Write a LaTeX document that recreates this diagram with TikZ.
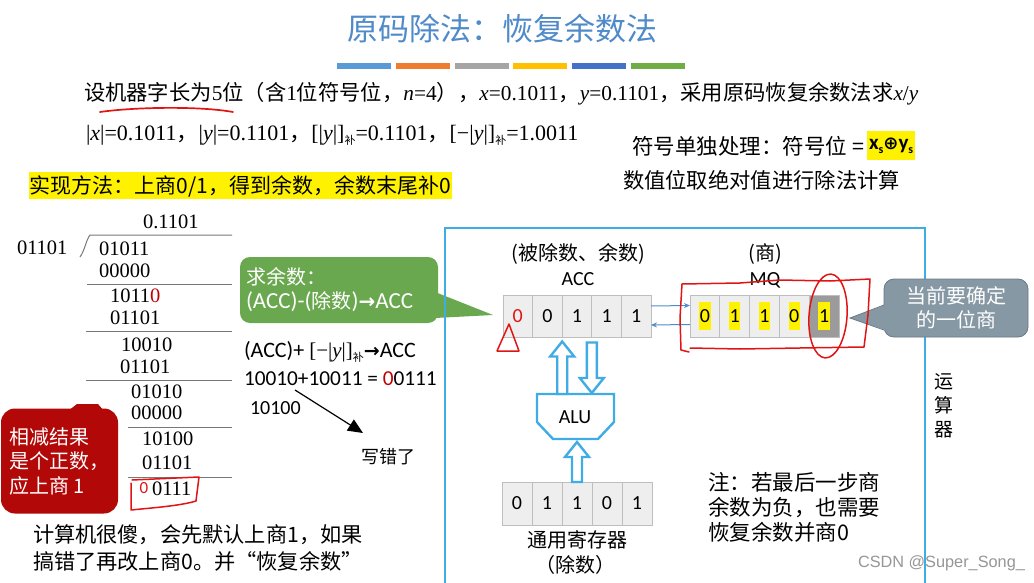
\documentclass[tikz,border=0pt]{standalone}
\usepackage{fontspec}
\setmainfont{Noto Sans CJK SC}
\newfontfamily\tms{Liberation Serif}
\newfontfamily\calb{Carlito}
\newfontfamily\dvs{DejaVu Sans}
\newfontfamily\lsans{Liberation Sans}
\usetikzlibrary{arrows.meta,calc}
\definecolor{ttl}{RGB}{79,138,201}
\definecolor{bA}{RGB}{91,155,213}
\definecolor{bB}{RGB}{237,125,49}
\definecolor{bC}{RGB}{165,165,165}
\definecolor{bD}{RGB}{255,192,0}
\definecolor{bE}{RGB}{68,114,196}
\definecolor{bF}{RGB}{112,173,71}
\definecolor{hred}{RGB}{225,20,20}
\definecolor{dred}{RGB}{178,8,8}
\definecolor{numred}{RGB}{192,0,0}
\definecolor{gcol}{RGB}{106,168,79}
\definecolor{gycol}{RGB}{135,152,165}
\definecolor{gybd}{RGB}{105,120,132}
\definecolor{frame}{RGB}{64,172,228}
\definecolor{cellf}{RGB}{238,238,238}
\definecolor{cellb}{RGB}{190,190,190}
\definecolor{celld}{RGB}{155,155,155}
\definecolor{sarrc}{RGB}{80,140,200}
\definecolor{dline}{RGB}{120,120,120}
\definecolor{wm}{RGB}{150,150,150}
\newcommand\fsz[1]{\fontsize{#1}{#1}\selectfont}
\newcommand\ylw[1]{{\setlength\fboxsep{0.6pt}\colorbox{yellow}{\rule[-7pt]{0pt}{26pt}#1}}}
\newcommand\bu{\raisebox{-4pt}{\fsz{11}补}}
\newcommand\uparr[2]{\draw[hol] let \p1=(#1), \p2=(#2) in (\x1-5pt,\y1) -- (\x1-5pt,\y2-15pt) -- (\x1-12pt,\y2-15pt) -- (\x1,\y2) -- (\x1+12pt,\y2-15pt) -- (\x1+5pt,\y2-15pt) -- (\x1+5pt,\y1) -- cycle;}
\newcommand\downarr[2]{\draw[hol] let \p1=(#1), \p2=(#2) in (\x1-5pt,\y1) -- (\x1-5pt,\y2+15pt) -- (\x1-12pt,\y2+15pt) -- (\x1,\y2) -- (\x1+12pt,\y2+15pt) -- (\x1+5pt,\y2+15pt) -- (\x1+5pt,\y1) -- cycle;}
\begin{document}
\begin{tikzpicture}[x=1pt,y=-1pt,
  every node/.style={inner sep=0pt,outer sep=0pt},
  dv/.style={anchor=west,font=\tms\fsz{20.5}},
  dvline/.style={draw=dline,line width=1pt},
  cell/.style={draw=cellb,fill=cellf,line width=0.8pt,minimum height=42pt,font=\calb\fsz{20}},
  hol/.style={draw=frame,line width=2.4pt,fill=white,line join=miter},
  hand/.style={draw=hred,line width=1.5pt,line cap=round,line join=round},
  sarr/.style={draw=sarrc,line width=1pt,-{Stealth[length=6pt,width=5pt]}},
  lbl/.style={font=\fsz{20}},
  cbl/.style={font=\calb\fsz{20}}]
\useasboundingbox (0,0) rectangle (1034,583);
\fill[white] (0,0) rectangle (1034,583);
% title and bars
\node[font=\fsz{31},text=ttl] (title) at (502,29) {原码除法：恢复余数法};
\foreach \c [count=\i] in {bA,bB,bC,bD,bE,bF}
  \fill[\c] ({337+(\i-1)*58.8},63) rectangle ++(54,6);
% statement lines
\node[anchor=west,font=\fsz{21.3}] (l1) at (84,94) {设机器字长为{\tms 5}位（含{\tms 1}位符号位，{\tms\textit{n}=4}），{\tms\textit{x}=0.1011}，{\tms\textit{y}=0.1101}，采用原码恢复余数法求{\tms\textit{x}/\textit{y}}};
\draw[hand,line width=1.7pt] (100,112) .. controls (135,107) and (200,106) .. (233,112);
\node[anchor=west,font=\fsz{22}] (l2) at (86,135) {{\tms |\textit{x}|=0.1011}，{\tms |\textit{y}|=0.1101}，{\tms [|\textit{y}|]}\bu{\tms =0.1101}，{\tms [−|\textit{y}|]}\bu{\tms =1.0011}};
\node[anchor=east,font=\fsz{21.5}] (sgn) at (864,146) {符号单独处理：符号位 =};
\node[anchor=west,fill=yellow,inner xsep=2pt,minimum height=29pt,font=\calb\bfseries\fsz{21}] (xsys) at ([xshift=3pt]sgn.east) {x\raisebox{-4pt}{\fsz{12}s}{\dvs\fsz{18}⊕}y\raisebox{-4pt}{\fsz{12}s}};
\node[anchor=west,font=\fsz{21.3}] (abs) at (623,180) {数值位取绝对值进行除法计算};
\node[anchor=west,fill=yellow,inner xsep=1pt,minimum height=27pt,font=\fsz{21}] (impl) at (29,186) {实现方法：上商0/1，得到余数，余数末尾补0};
% long division
\node[dv] (q) at (143,222) {0.1101};
\node[dv] (dvs) at (17,248) {01101};
\draw[dvline] (80,257) .. controls (85,250) and (86,240) .. (90,235) -- (232,235);
\node[dv] (r0) at (99,249) {01011};
\node[dv] (s0) at (99,271) {00000};
\draw[dvline] (87,284) -- (232,284);
\node[dv] (r1) at (110,296) {1011\textcolor{numred}{0}};
\node[dv] (s1) at (110,318) {01101};
\draw[dvline] (86,331) -- (232,331);
\node[dv] (r2) at (121,345) {10010};
\node[dv] (s2) at (120,367) {01101};
\draw[dvline] (86,380) -- (232,380);
\node[dv] (r3) at (131,392) {01010};
\node[dv] (s3) at (131,413) {00000};
\draw[dvline] (128,427) -- (232,427);
\node[dv] (r4) at (142,439) {10100};
\node[dv] (s4) at (142,463) {01101};
\draw[dvline] (128,477) -- (232,477);
\node[dv] (r5) at (152,489) {0111};
\node[font=\calb\fsz{17},text=hred] (r5a) at (144,488) {0};
\draw[hand] (132,480) -- (199,477) -- (196,501) .. controls (180,506) and (150,508) .. (131,510) -- (131,483);
% red callout
\fill[dred] (68,411) -- (77,404) -- (98,404) -- (104,411) -- cycle;
\node[fill=dred,rounded corners=14pt,minimum width=117pt,minimum height=105pt,text=white,align=left,font=\fontsize{20}{24.5}\selectfont] (rcall) at (59.5,461) {相减结果\\是个正数，\\应上商 1};
% bottom note
\node[anchor=west,align=left,font=\fontsize{21.2}{27}\selectfont] (note1) at (33,548) {计算机很傻，会先默认上商1，如果\\搞错了再改上商0。并“恢复余数”};
% ACC
\node[lbl] (acclbl) at (578,254) {(被除数、余数)};
\node[cbl] (accname) at (578,279) {ACC};
\foreach \d [count=\i] in {{\textcolor{hred}{0}},0,1,1,1}
  \node[cell,minimum width=29.6pt] (acc\i) at ({517.8+(\i-1)*29.6},316.5) {\d};
% green callout
\node[fill=gcol,rounded corners=10pt,minimum width=198pt,minimum height=66pt,text width=186pt,align=left,text=white,font=\fontsize{20}{24}\selectfont] (gcall) at (339,290) {求余数：\\{\calb\fsz{23}(ACC)-(}除数{\calb\fsz{23})}{\dvs\bfseries\fsz{20}→}{\calb\fsz{23}ACC}};
\fill[gcol] ($(gcall.east)+(-3,2)$) -- ($(acc1.west)+(-10,-1.5)$) -- ($(gcall.east)+(-3,28)$) -- cycle;
% computation text
\node[anchor=west,font=\fsz{21}] (calc1) at (244,352) {{\calb\fsz{22}(ACC)+ }{\tms [−|\textit{y}|]}\bu{\dvs\bfseries\fsz{19}→}{\calb\fsz{22}ACC}};
\node[anchor=west,font=\calb\fsz{21.3}] (calc2) at (244,379) {10010+10011 = \textcolor{numred}{0}0111};
\node[anchor=west,font=\calb\fsz{20}] (wrong) at (250,408) {10100};
\node[font=\fsz{18}] (xcl) at (388,457) {写错了};
\coordinate (wa) at (295,390);
\coordinate (wb) at (363,433);
\draw[line width=1.2pt,-{Triangle[length=15pt,width=13pt]}] (wa) -- (wb);
% frame
\draw[draw=frame,line width=2.5pt] (445,584) -- (445,228) -- (925,228) -- (925,584);
\node[align=center,font=\fontsize{19}{24}\selectfont] (ysq) at (944,406) {运\\算\\器};
% MQ
\node[lbl] (mqlbl) at (765,254) {(商)};
\node[cbl] (mqname) at (765,280) {MQ};
\foreach \d [count=\i] in {0,1,1,0}
  \node[cell,minimum width=29.8pt] (mq\i) at ({704.9+(\i-1)*29.8},316) {\ylw{\d}};
\node[cell,minimum width=29.8pt,fill=celld] (mq5) at ({704.9+4*29.8},316) {\ylw{1}};
\draw[sarr] ([yshift=10.5pt]acc5.east) -- ([yshift=10.5pt]mq1.west);
\draw[sarr] ([yshift=-8.5pt]mq1.west) -- ([yshift=-8.5pt]acc5.east);
% ALU
\node[cbl] (alu) at (575,417) {ALU};
\draw[draw=frame,line width=2.4pt,line join=miter] (537,394) -- (614,394) -- (614,422) -- (598,439) -- (553,439) -- (537,422) -- cycle;
\path ($(acc2.south)!.5!(acc3.south)+(0,4)$) coordinate (ua1);
\path (ua1 |- 0,394) coordinate (ua0);
\path ($(acc3.south)!.5!(acc4.south)+(0,5)$) coordinate (da0);
\path (da0 |- 0,393) coordinate (da1);
\uparr{ua0}{ua1}
\downarr{da0}{da1}
% general register
\foreach \d [count=\i] in {0,1,1,0,1}
  \node[cell,minimum width=30pt,minimum height=43pt] (gr\i) at ({517+(\i-1)*30},503.5) {\d};
\path (gr3.north) coordinate (ra0);
\path (gr3.north |- 0,442) coordinate (ra1);
\uparr{ra0}{ra1}
\node[lbl] (grlbl) at (577,540) {通用寄存器};
\node[lbl] (grlbl2) at (575,565) {（除数）};
% note
\node[anchor=west,align=left,font=\fontsize{21.5}{25}\selectfont] (zhu) at (708,507) {注：若最后一步商\\余数为负，也需要\\恢复余数并商0};
% gray callout
\node[fill=gycol,draw=gybd,line width=0.8pt,rounded corners=10pt,minimum width=144pt,minimum height=58pt,align=center,text=white,font=\fontsize{20}{24}\selectfont] (gc2) at (956,308) {当前要确定\\的一位商};
\fill[gycol] ($(gc2.west)+(1.2,-3)$) -- ($(mq5.east)+(11,2)$) -- ($(gc2.west)+(1.2,22)$) -- cycle;
\draw[draw=gybd,line width=0.8pt] ($(gc2.west)+(0,-3)$) -- ($(mq5.east)+(11,2)$) -- ($(gc2.west)+(0,22)$);
% hand-drawn marks
\draw[hand] (509,324) -- (497,351) -- (519,351) -- cycle;
\draw[hand] (689,352) -- (681,350) -- (680,318) -- (682,284) -- (740,283) -- (780,280) -- (830,281) -- (870,279) -- (868,315) -- (864,347) -- (800,348) -- (740,349) -- (690,348);
\draw[hand,rotate around={-4:(828,316)}] (828,316) ellipse [x radius=19pt,y radius=42pt];
% watermark
\node[anchor=west,font=\lsans\fsz{16.3},text=wm] (wmk) at (858,563) {CSDN @Super\_Song\_};
\end{tikzpicture}
\end{document}
